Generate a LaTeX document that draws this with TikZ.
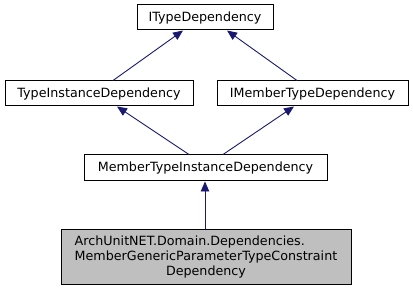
\documentclass[tikz,border=0pt]{standalone}
\usepackage{fontspec}
\setmainfont{DejaVu Sans}
\usetikzlibrary{arrows.meta}
\definecolor{edgeblue}{HTML}{191970}
\definecolor{focusfill}{HTML}{BFBFBF}
\begin{document}
\begin{tikzpicture}[x=1pt,y=-1pt,
  classbox/.style={draw=black,line width=1pt,fill=white,rectangle,inner sep=0pt,
    minimum height=25pt,font=\fontsize{12.7}{15}\selectfont,anchor=center},
  inherit/.style={draw=edgeblue,line width=0.9pt,
    {Triangle[length=10pt,width=8.5pt,fill=edgeblue]}-}]
  \useasboundingbox (0,0) rectangle (413,291);
  % class boxes
  \node[classbox,minimum width=136pt] (itd) at (205,17.5) {ITypeDependency};
  \node[classbox,minimum width=188pt] (tid) at (99,93.5) {TypeInstanceDependency};
  \node[classbox,minimum width=191pt] (imtd) at (312.5,93.5) {IMemberTypeDependency};
  \node[classbox,minimum width=243pt,minimum height=26pt] (mtid) at (205.5,168) {MemberTypeInstanceDependency};
  \node[classbox,fill=focusfill,minimum width=290pt,minimum height=55pt] (mgp) at (206,257.5)
    {\begin{tabular}{@{}l@{}}ArchUnitNET.Domain.Dependencies.\\MemberGenericParameterTypeConstraint\\\multicolumn{1}{@{}c@{}}{Dependency}\end{tabular}};
  % inheritance edges
  \draw[inherit] ([xshift=-22pt]itd.south) -- ([xshift=14pt]tid.north);
  \draw[inherit] ([xshift=22pt]itd.south) -- ([xshift=-15.5pt]imtd.north);
  \draw[inherit] ([xshift=18pt]tid.south) -- ([xshift=-16.5pt]mtid.north);
  \draw[inherit] ([xshift=-18.5pt]imtd.south) -- ([xshift=17.5pt]mtid.north);
  \draw[inherit] ([xshift=-0.5pt]mtid.south) -- ([xshift=-1pt]mgp.north);
\end{tikzpicture}
\end{document}
